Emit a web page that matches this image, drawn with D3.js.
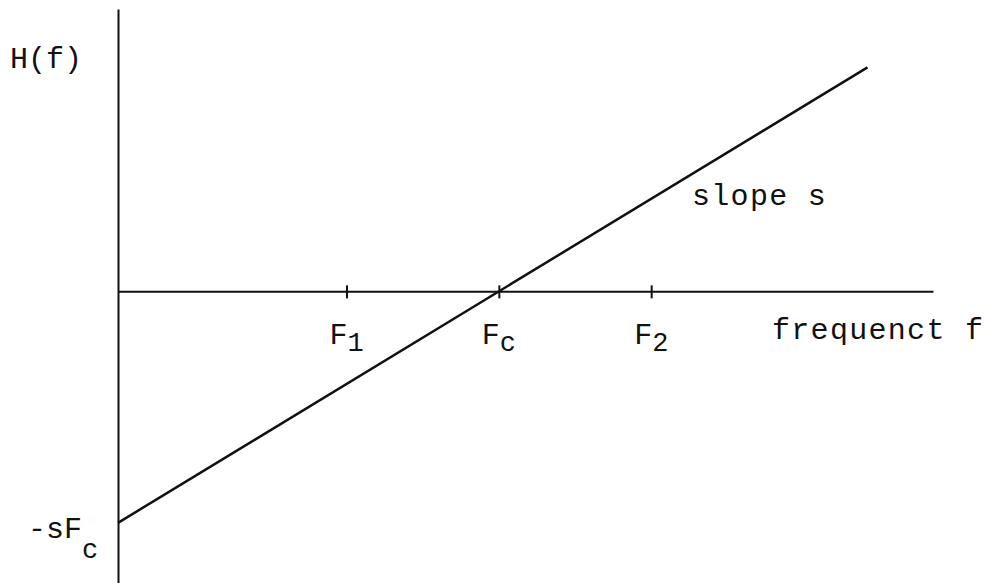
<!DOCTYPE html>
<html>
<head>
<meta charset="utf-8">
<script src="https://cdn.jsdelivr.net/npm/d3@7"></script>
<style>
  html, body { margin: 0; padding: 0; background: #fff; }
  svg text { font-family: "Liberation Mono", "DejaVu Sans Mono", monospace; fill: #111; }
</style>
</head>
<body>
<div id="chart"></div>
<script>
// frequency axis ticks (Fc is where the line crosses zero)
var tickValues = [3, 5, 7];
var tickNames = ["F", "F", "F"];
var tickSubs = ["1", "c", "2"];

// the straight line H(f), slope s = 1, from f = 0 up to its drawn end
var lineF = [0, 9.84];
var lineH = [-5, 4.84];

var xDomain = [0, 10.7];
var yDomain = [-6.3, 6.1];

var width = 995, height = 583;

var svg = d3.select("#chart")
  .append("svg")
    .attr("width", width)
    .attr("height", height);

var x = d3.scaleLinear().domain(xDomain).range([118, 933]);
var y = d3.scaleLinear().domain(yDomain).range([583, 9]);

// frequency axis, ticks cross the line
var xAxis = d3.axisBottom(x)
  .tickValues(tickValues)
  .tickFormat("")
  .tickSizeOuter(0);

var gx = svg.append("g")
  .attr("transform", "translate(0," + y(0) + ")")
  .call(xAxis);
gx.select(".domain").attr("stroke", "#111").attr("stroke-width", 2);
gx.selectAll(".tick line")
  .attr("y1", -6)
  .attr("y2", 7)
  .attr("stroke", "#111")
  .attr("stroke-width", 2);

// H(f) axis, no ticks
var yAxis = d3.axisLeft(y).tickValues([]).tickSizeOuter(0);
var gy = svg.append("g")
  .attr("transform", "translate(" + x(0) + ",0)")
  .call(yAxis);
gy.select(".domain").attr("stroke", "#111").attr("stroke-width", 2);

// the line
var pts = lineF.map(function(f, i) { return [f, lineH[i]]; });
svg.append("path")
  .datum(pts)
  .attr("fill", "none")
  .attr("stroke", "#111")
  .attr("stroke-width", 2.5)
  .attr("d", d3.line()
    .x(function(d) { return x(d[0]); })
    .y(function(d) { return y(d[1]); }));

// tick labels F1, Fc, F2
var labels = svg.selectAll(".flabel")
  .data(tickValues)
  .enter()
  .append("text")
    .attr("class", "flabel")
    .attr("x", function(d) { return x(d) - 17; })
    .attr("y", y(0) + 53)
    .attr("font-size", 30);
labels.append("tspan").text(function(d, i) { return tickNames[i]; });
labels.append("tspan")
  .attr("dy", 7)
  .attr("font-size", 27)
  .text(function(d, i) { return tickSubs[i]; });

// axis names
svg.append("text")
  .attr("x", 10)
  .attr("y", 68)
  .attr("font-size", 30)
  .text("H(f)");

svg.append("text")
  .attr("x", 772)
  .attr("y", 339)
  .attr("font-size", 30)
  .attr("letter-spacing", "1.3px")
  .text("frequenct f");

svg.append("text")
  .attr("x", 692)
  .attr("y", 205)
  .attr("font-size", 30)
  .attr("letter-spacing", "1.3px")
  .text("slope s");

// intercept label -sFc
var icpt = svg.append("text")
  .attr("x", 28)
  .attr("y", y(lineH[0]) + 15)
  .attr("font-size", 30);
icpt.append("tspan").text("-sF");
icpt.append("tspan")
  .attr("dy", 20)
  .attr("font-size", 27)
  .text("c");
</script>
</body>
</html>
